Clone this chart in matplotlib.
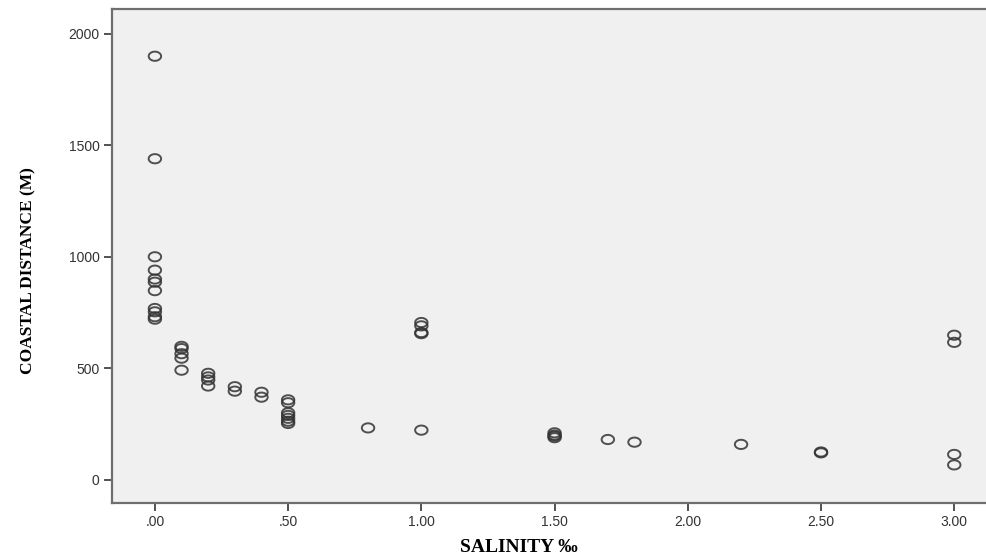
import numpy as np
import matplotlib
matplotlib.use("Agg")
import matplotlib.pyplot as plt
from matplotlib.path import Path

# salinity (per mille) and coastal distance (m)
salinity = [
    0, 0, 0, 0, 0, 0, 0, 0, 0, 0, 0,
    0.1, 0.1, 0.1, 0.1, 0.1,
    0.2, 0.2, 0.2, 0.2,
    0.3, 0.3,
    0.4, 0.4,
    0.5, 0.5, 0.5, 0.5, 0.5, 0.5, 0.5,
    0.8,
    1.0, 1.0, 1.0, 1.0, 1.0,
    1.5, 1.5, 1.5, 1.5,
    1.7, 1.8, 2.2,
    2.5, 2.5,
    3.0, 3.0, 3.0, 3.0,
]
distance = [
    1900, 1440, 1000, 940, 900, 886, 848, 768, 753, 731, 720,
    598, 588, 565, 545, 491,
    477, 461, 447, 420,
    417, 397,
    392, 370,
    358, 345, 300, 288, 275, 262, 252,
    232,
    705, 690, 660, 655, 222,
    210, 200, 195, 188,
    180, 168, 158,
    124, 120,
    648, 616, 113, 66,
]

xticks = [0, 0.5, 1.0, 1.5, 2.0, 2.5, 3.0]
xtick_labels = [".00", ".50", "1.00", "1.50", "2.00", "2.50", "3.00"]
yticks = [0, 500, 1000, 1500, 2000]

# slightly flattened circle, like the stretched SPSS markers
t = np.linspace(0, 2 * np.pi, 60)
ellipse = Path(np.column_stack([1.35 * np.cos(t), np.sin(t)]), closed=True)

fig = plt.figure(figsize=(9.87, 5.57), dpi=100)
ax = fig.add_axes([112 / 987, 1 - 503 / 557, 1 - 112 / 987 + 0.01, (503 - 9) / 557])
ax.set_facecolor("#f0f0f0")

ax.scatter(salinity, distance, marker=ellipse, s=80, facecolors="none",
           edgecolors="#333333", linewidths=1.4, alpha=0.85, zorder=3)

ax.set_xlim(-0.161, 3.16)
ax.set_ylim(-105, 2112)
ax.set_xticks(xticks)
ax.set_xticklabels(xtick_labels)
ax.set_yticks(yticks)

for side in ["top", "left", "bottom"]:
    ax.spines[side].set_color("#6e6e6e")
    ax.spines[side].set_linewidth(1.6)
ax.spines["right"].set_visible(False)

ax.tick_params(axis="both", direction="out", length=6, width=1.3, color="#444444",
               labelsize=10, labelcolor="#333333", pad=3)
for lab in ax.get_xticklabels() + ax.get_yticklabels():
    lab.set_family(["Liberation Sans", "DejaVu Sans"])

ax.set_xlabel("SALINITY ‰", family=["Liberation Serif", "DejaVu Serif"],
              fontweight="bold", fontsize=14)
ax.set_ylabel("COASTAL DISTANCE (M)", family=["Liberation Serif", "DejaVu Serif"],
              fontweight="bold", fontsize=12.5)
ax.xaxis.set_label_coords(0.46, -0.072)
ax.yaxis.set_label_coords(-0.085, 0.47)

fig.savefig("out.png", dpi=100)
